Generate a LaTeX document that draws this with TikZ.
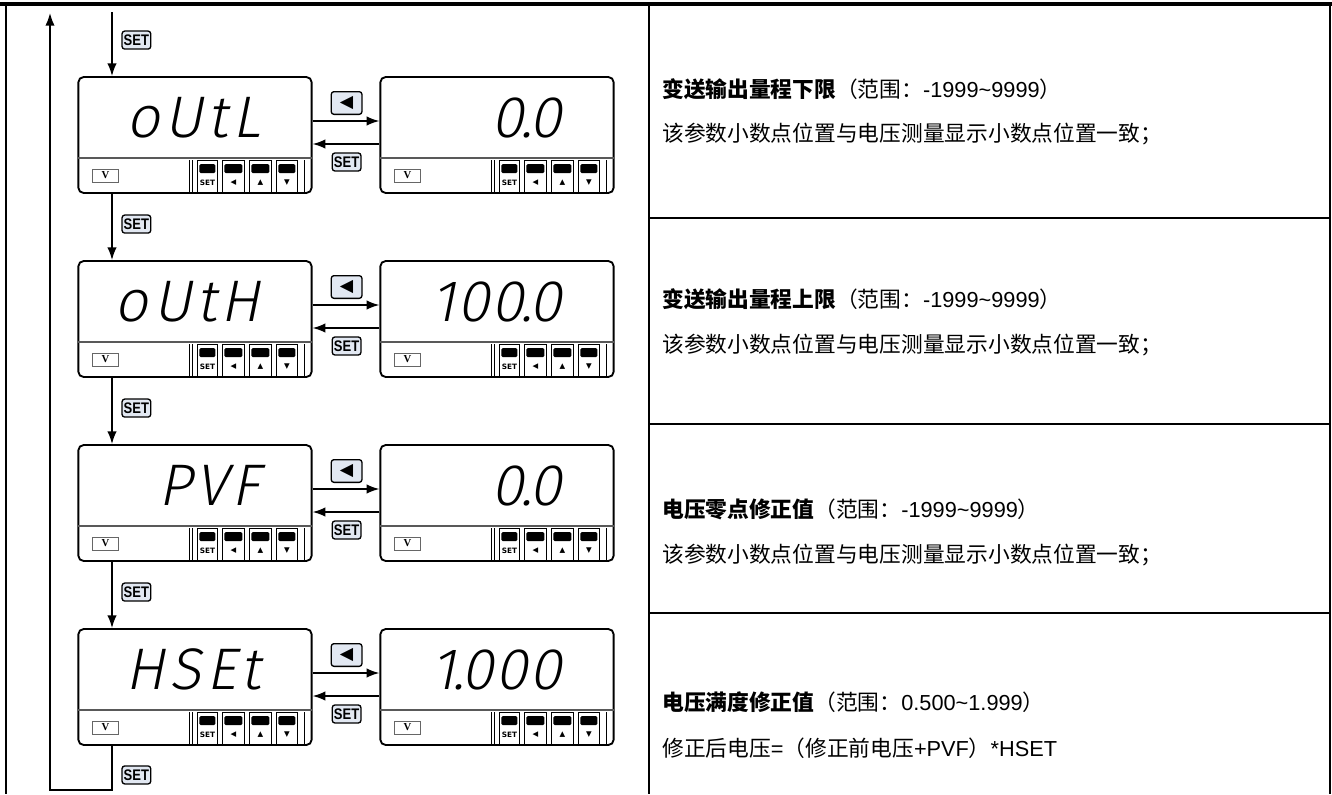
\documentclass[tikz,border=0pt]{standalone}
\usepackage{fontspec}
\usetikzlibrary{arrows.meta,positioning}
\setmainfont{Liberation Sans}
\newfontfamily\cjk{Noto Sans CJK SC}
\newfontfamily\symfont{DejaVu Sans}
\newfontfamily\segfont[FakeSlant=0.2,LetterSpace=8]{Fira Sans Light}
\newfontfamily\numfont[FakeSlant=0.2,LetterSpace=3]{Fira Sans Light}
\newfontfamily\keyfont[FakeStretch=0.85]{Liberation Sans}
\newfontfamily\vfont{Liberation Serif}
\definecolor{keyfill}{RGB}{226,232,242}

\tikzset{
  unit/.style={draw, line width=1.4pt, rounded corners=4pt, minimum width=175pt, minimum height=87pt, inner sep=0pt},
  strip/.style={line width=1.3pt, black!65},
  cell/.style={line width=0.5pt},
  keycap/.style={fill=black, rounded corners=1pt},
  capsym/.style={inner sep=0pt, font=\symfont\bfseries\fontsize{5.5}{5.5}\selectfont},
  vbox/.style={draw=black!60, line width=0.6pt, minimum width=20pt, minimum height=10pt, inner sep=0pt, font=\vfont\bfseries\fontsize{8}{8}\selectfont},
  reading/.style={inner sep=0pt, font=\segfont\fontsize{44}{44}\selectfont},
  key/.style={draw, fill=keyfill, line width=1pt, rounded corners=2pt, inner sep=0pt, minimum width=21.5pt, minimum height=13.5pt, font=\keyfont\bfseries\fontsize{11.5}{11.5}\selectfont},
  arrowkey/.style={key, minimum width=23pt, minimum height=17pt, font=\symfont\fontsize{13}{13}\selectfont},
  flow/.style={line width=1.2pt, -{Latex[length=9.5pt,width=7pt]}},
  rule/.style={line width=1.9pt},
  desc/.style={anchor=west, inner sep=0pt, font=\cjk\fontsize{16.3}{18}\selectfont},
}

\newcommand{\lat}[1]{{\rmfamily #1}}
\newcommand{\dt}{\kern-.05em.\kern-.05em}

% one meter: name, left x, top y, reading
\newcommand{\meterunit}[4]{%
  \node[unit] (#1) at (#2+117,#3+58) {};
  \draw[strip] ([shift={(0,82)}]#1.north west) -- ([shift={(0,82)}]#1.north east);
  \node[vbox] (#1v) at ([shift={(28,99.5)}]#1.north west) {V};
  \draw[cell] ([shift={(112,84)}]#1.north west) -- ([shift={(112,116)}]#1.north west)
              ([shift={(115,84)}]#1.north west) -- ([shift={(115,116)}]#1.north west)
              ([shift={(227,84)}]#1.north west) -- ([shift={(227,116)}]#1.north west);
  \foreach \xa/\xb/\lab [count=\n] in {120/140/SET, 145/167/◀, 172/194/▲, 199/220/▼}{
    \draw[cell] ([shift={(\xa,84)}]#1.north west) rectangle ([shift={(\xb,116)}]#1.north west);
    \fill[keycap] ([shift={(\xa+2,88)}]#1.north west) rectangle ([shift={(\xb-2,97)}]#1.north west);
    \node[capsym] (#1s\n) at ([shift={({(\xa+\xb)/2},107)}]#1.north west) {\lab};
  }
  \node[reading, anchor=base east] (#1r) at ([shift={(183,61)}]#1.north west) {#4};
}

\begin{document}
\begin{tikzpicture}[x=0.75pt, y=-0.75pt]
  \useasboundingbox (0,0) rectangle (1332,794);

  % table lines
  \draw[rule, line width=2.6pt] (0,4) -- (1332,4);
  \draw[rule] (6,4) -- (6,794);
  \draw[rule] (649,4) -- (649,794);
  \draw[rule] (1330,4) -- (1330,794);
  \draw[rule] (649,218) -- (1330,218);
  \draw[rule] (649,424) -- (1330,424);
  \draw[rule] (649,613) -- (1330,613);

  % meters
  \meterunit{outl}{78}{77}{oUtL}
  \meterunit{outlv}{380}{77}{\numfont 0\dt 0}
  \meterunit{outh}{78}{261}{oUtH}
  \meterunit{outhv}{380}{261}{\numfont 100\dt 0}
  \meterunit{pvf}{78}{445}{PVF}
  \meterunit{pvfv}{380}{445}{\numfont 0\dt 0}
  \meterunit{hset}{78}{629}{HSEt}
  \meterunit{hsetv}{380}{629}{\numfont 1\dt 000}

  % main loop
  \coordinate (entry) at (112,12);
  \coordinate (loopb) at (112,790);
  \coordinate (loopl) at (50,790);
  \coordinate (loopt) at (50,13);
  \draw[flow] (entry) -- (entry |- outl.north);
  \draw[flow] (entry |- outl.south) -- (entry |- outh.north);
  \draw[flow] (entry |- outh.south) -- (entry |- pvf.north);
  \draw[flow] (entry |- pvf.south) -- (entry |- hset.north);
  \draw[flow] (entry |- hset.south) -- (loopb) -- (loopl) -- (loopt);

  \node[key] (set1) at ([shift={(59,-36)}]outl.north west) {SET};
  \node[key] (set2) at ([shift={(59,-36)}]outh.north west) {SET};
  \node[key] (set3) at ([shift={(59,-36)}]pvf.north west) {SET};
  \node[key] (set4) at ([shift={(59,-36)}]hset.north west) {SET};
  \node[key] (set5) at ([shift={(59,29)}]hset.south west) {SET};

  % side arrows
  \foreach \m in {outl, outh, pvf, hset}{
    \draw[flow] ([shift={(0,-14)}]\m.east) -- ([shift={(0,-14)}]\m v.west);
    \draw[flow] ([shift={(0,9)}]\m v.west) -- ([shift={(0,9)}]\m.east);
    \node[arrowkey] (\m k) at ([shift={(34,-32)}]\m.east) {◀};
    \node[key] (\m set) at ([shift={(34,27)}]\m.east) {SET};
  }

  % descriptions
  \node[desc] (d1a) at (662,89) {{\bfseries 变送输出量程下限}（范围：\lat{-1999\textasciitilde 9999}）};
  \node[desc] (d1b) at (662,134) {该参数小数点位置与电压测量显示小数点位置一致；};
  \node[desc] (d2a) at (662,299) {{\bfseries 变送输出量程上限}（范围：\lat{-1999\textasciitilde 9999}）};
  \node[desc] (d2b) at (662,345) {该参数小数点位置与电压测量显示小数点位置一致；};
  \node[desc] (d3a) at (662,509) {{\bfseries 电压零点修正值}（范围：\lat{-1999\textasciitilde 9999}）};
  \node[desc] (d3b) at (662,555) {该参数小数点位置与电压测量显示小数点位置一致；};
  \node[desc] (d4a) at (662,702) {{\bfseries 电压满度修正值}（范围：\lat{0.500\textasciitilde 1.999}）};
  \node[desc] (d4b) at (662,748) {修正后电压\lat{=}（修正前电压\lat{+PVF}）\lat{*HSET}};
\end{tikzpicture}
\end{document}
